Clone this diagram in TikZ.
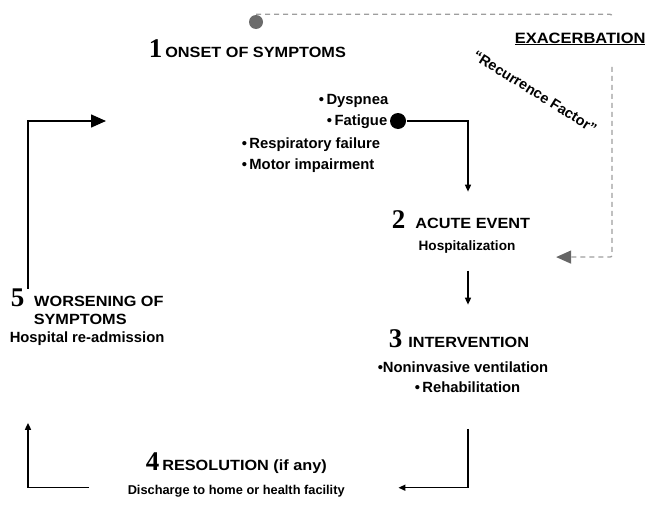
\documentclass[tikz,border=0pt]{standalone}
\usepackage{fontspec}
\setmainfont{Liberation Sans}
\newfontfamily\titlefont[FakeStretch=1.1]{Liberation Sans}
\newfontfamily\numfont{Liberation Serif}
\usetikzlibrary{positioning,arrows.meta}
\newcommand{\stepno}[1]{{\numfont\bfseries\fontsize{27}{27}\selectfont #1}}

\begin{document}
\begin{tikzpicture}[x=1pt,y=-1pt,line width=1.5pt,
        title/.style={font=\titlefont\bfseries\fontsize{14.8}{17}\selectfont,inner sep=1pt,anchor=base west},
        item/.style={font=\bfseries\fontsize{14.8}{17}\selectfont,inner sep=1pt},
        link/.style={-{Triangle[length=7pt,width=6pt]}},
        bigarrow/.style={-{Triangle[length=15pt,width=13pt]}},
        recur/.style={black!38,line width=1.3pt,dash pattern=on 5pt off 4pt,rounded corners=2pt}]
        \useasboundingbox (0,0) rectangle (645,514);
        \coordinate (loop) at (28,0);
        \coordinate (spine) at (468,0);
        \coordinate (loopr) at (612,0);

        % 1 onset
        \node[title] (onset) at (147,57) {\stepno{1}\hspace{3pt}ONSET OF SYMPTOMS};
        \node[circle,fill=black!58,minimum size=14pt,inner sep=0pt] (gdot) at (256,22) {};
        \node[item,anchor=base east] (dysp) at (390,104) {\textbullet\,Dyspnea};
        \node[item,anchor=base east] (fatig) at (389,125) {\textbullet\,Fatigue};
        \node[item,anchor=base west] (resp) at (240,148) {\textbullet\,Respiratory failure};
        \node[item,anchor=base west] (motor) at (240,169) {\textbullet\,Motor impairment};
        \node[circle,fill=black,minimum size=16pt,inner sep=0pt] (fdot) at (398,121) {};

        % exacerbation
        \node[title,font=\titlefont\bfseries\fontsize{15}{17}\selectfont] (exac) at (513,43) {\underline{EXACERBATION}};
        \node[item,font=\bfseries\fontsize{14.5}{17}\selectfont,rotate=-32] (factor) at (535,92) {``Recurrence Factor''};

        % 2 acute event
        \node[title] (acute) at (390,228) {\stepno{2}\hspace{10pt}ACUTE EVENT};
        \node[item,anchor=base,font=\bfseries\fontsize{13.6}{16}\selectfont] (hosp) at (467,250) {Hospitalization};

        % 3 intervention
        \node[title] (interv) at (387,347) {\stepno{3}\hspace{6pt}INTERVENTION};
        \node[item,anchor=base west] (niv) at (376,372) {\textbullet Noninvasive ventilation};
        \node[item,anchor=base west] (rehab) at (413,392) {\textbullet\,Rehabilitation};

        % 4 resolution
        \node[title] (resol) at (144,470) {\stepno{4}\hspace{3pt}RESOLUTION (if any)};
        \node[item,anchor=base west,font=\bfseries\fontsize{12.8}{15}\selectfont] (disch) at (126,494) {Discharge to home or health facility};

        % 5 worsening
        \node[title] (worse) at (9,306) {\stepno{5}\hspace{10pt}WORSENING OF};
        \node[title] (symp) at (32,324) {SYMPTOMS};
        \node[item,anchor=base west] (readm) at (8,342) {Hospital re-admission};

        % cycle
        \draw[link,shorten >=16.7pt] (fdot.east) -| (spine |- acute.north);
        \draw[link,shorten <=16pt,shorten >=22.7pt] (spine |- hosp.south) -- (spine |- interv.north);
        \draw[link,shorten <=35pt,shorten >=52pt] (spine |- rehab.south) |- ([yshift=3pt]disch.east);
        \draw[link,shorten <=37pt,shorten >=76pt] ([yshift=3pt]disch.west) -| (loop |- readm.south);
        \draw[bigarrow,shorten >=134pt] ([yshift=-2pt]loop |- worse.north) |- (resp.west |- fdot);

        % recurrence loop
        \draw[recur] (gdot.north) -| ([yshift=12pt]loopr |- exac.north);
        \draw[recur,-{Triangle[length=15pt,width=13pt,color=black!60,fill=black!60]},shorten >=39pt] ([yshift=-20pt]loopr |- exac.south) |- ([yshift=-10.6pt]hosp.east);
    \end{tikzpicture}
\end{document}
